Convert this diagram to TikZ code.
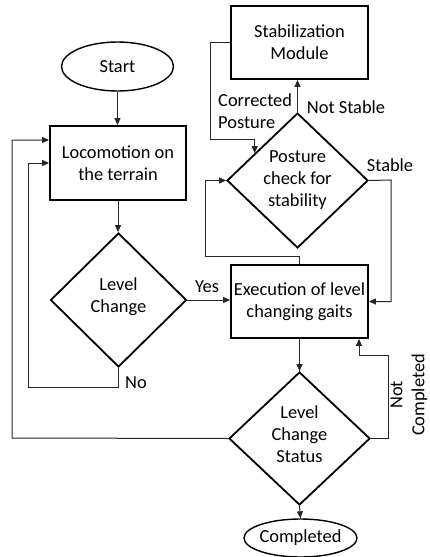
\documentclass[tikz,border=0pt]{standalone}
\usepackage{fontspec}
\setmainfont{Carlito}
\usetikzlibrary{shapes.geometric,arrows.meta,calc}
\begin{document}
\begin{tikzpicture}[x=1pt,y=-1pt,
  every node/.style={font=\fontsize{18.4}{22}\selectfont, inner sep=0pt},
  box/.style={draw, line width=1.8pt, rectangle},
  dia/.style={draw, line width=1.8pt, diamond},
  oval/.style={draw, line width=1.4pt, ellipse},
  conn/.style={line width=1pt, draw=black!85, -{Triangle[length=7pt,width=6pt]}},
  lbl/.style={align=center}]
\useasboundingbox (0,0) rectangle (430,557);

% shapes
\node[oval, minimum width=112pt, minimum height=49pt] (start) at (117.5,66.5) {\makebox[0pt]{Start}};
\node[box, minimum width=136pt, minimum height=74pt, align=center] (loco) at (118,163) {Locomotion on\\the terrain};
\node[dia, minimum width=136pt, minimum height=134pt] (lc) at (118.5,300) {};
\node[lbl] (lctext) at (118.5,297) {Level\\Change};

\node[box, minimum width=137pt, minimum height=73pt, align=center] (stab) at (299.5,42.5) {Stabilization\\Module};
\node[dia, minimum width=141pt, minimum height=135pt] (pc) at (297.5,180.5) {};
\node[lbl] (pctext) at (297.5,180) {Posture\\check for\\stability};
\node[box, minimum width=137pt, minimum height=73pt, align=center] (exec) at (299.5,301.5) {Execution of level\\changing gaits};
\node[dia, minimum width=141pt, minimum height=133pt] (lcs) at (299.5,438.5) {};
\node[lbl] (lcstext) at (299.5,434) {Level\\Change\\Status};
\node[oval, minimum width=113pt, minimum height=38pt] (comp) at (300.5,538) {\makebox[0pt]{Completed}};

% corner coordinates
\coordinate (nob) at (28,387);
\coordinate (oc) at (12,438);
\coordinate (ncc) at (388,355);
\coordinate (fb) at (205,256);
\coordinate (cp) at (210,139);
\coordinate (st) at (391,180);

% connectors
\draw[conn] (start.south) -- (start.south |- loco.north);
\draw[conn] (loco.south) -- (loco.south |- lc.north);
\draw[conn] (lc.east) -- (lc.east -| exec.west);
\draw[conn] (lc.south) |- (nob) |- (loco.west);
\draw[conn] (lcs.west) -- (oc) |- ([yshift=23pt]loco.west);
\draw[conn] (exec.south) -- (lcs.north);
\draw[conn] (lcs.east) -| (ncc) -| ([xshift=59.5pt]exec.south);
\draw[conn] (lcs.south) -- (comp.north);
\draw[conn] (exec.north) |- (fb) |- (pc.west);
\draw[conn] (pc.north) -- (pc.north |- stab.south);
\draw[conn] (stab.west) -| (cp) -| ($(pc.west)!0.4!(pc.north)$);
\draw[conn] (pc.east) -- (st) |- (exec.east);

% labels
\node (yes) at (207,287) {Yes};
\node (no) at (136,383) {No};
\node[align=left, anchor=west] (corr) at (218,111.5) {Corrected\\Posture};
\node (notst) at (346,107) {Not Stable};
\node (stable) at (390,165) {Stable};
\node[rotate=90, align=center] (notc) at (409,395) {Not\\Completed};
\end{tikzpicture}
\end{document}
